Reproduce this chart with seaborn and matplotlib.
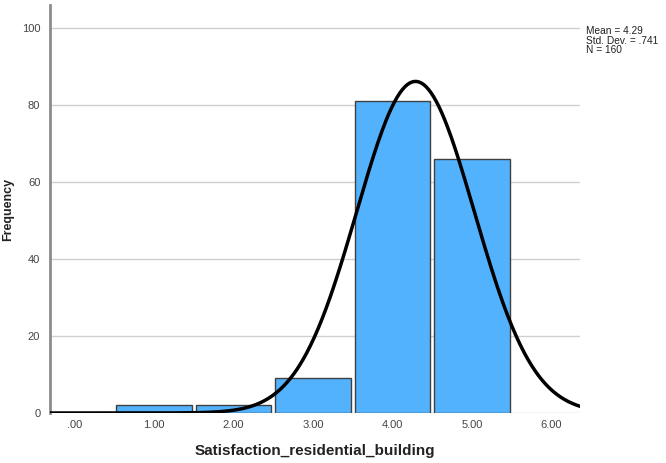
import numpy as np
import pandas as pd
import matplotlib
matplotlib.use("Agg")
import matplotlib.pyplot as plt
import seaborn as sns

categories = [1, 2, 3, 4, 5]
counts = [2, 2, 9, 81, 66]
mean_val = 4.29
sd_val = 0.741
n_val = 160
xtick_vals = [0, 1, 2, 3, 4, 5, 6]
xtick_labels = [".00", "1.00", "2.00", "3.00", "4.00", "5.00", "6.00"]
ytick_vals = [0, 20, 40, 60, 80, 100]

sns.set_style("white")
plt.rcParams['font.family'] = ['Liberation Sans', 'DejaVu Sans']

fig = plt.figure(figsize=(6.66, 4.63), dpi=100)
ax = fig.add_axes([50/666, 1 - 413/463, 530/666, 408/463])

df = pd.DataFrame({"value": categories, "count": counts})
sns.histplot(data=df, x="value", weights="count", discrete=True, shrink=0.955,
             color="#52b2fe", edgecolor="#404040", linewidth=1.0, alpha=1, ax=ax, zorder=3)

xmin, xmax = -0.31, 6.36
xs = np.linspace(xmin, xmax, 400)
ys = n_val * 1.0 / (sd_val * np.sqrt(2 * np.pi)) * np.exp(-0.5 * ((xs - mean_val) / sd_val) ** 2)
sns.lineplot(x=xs, y=ys, color="black", linewidth=2.5, ax=ax, zorder=4)

ax.set_xlim(xmin, xmax)
ax.set_ylim(0, 106)
ax.set_xticks(xtick_vals)
ax.set_xticklabels(xtick_labels)
ax.set_yticks(ytick_vals)
ax.tick_params(axis='x', length=0, labelsize=8, colors="#444444", pad=5)
ax.tick_params(axis='y', length=0, labelsize=8, colors="#444444", pad=7)
ax.yaxis.grid(True, color="#d0d0d0", linewidth=1)
ax.set_axisbelow(True)
for s in ["top", "right", "bottom"]:
    ax.spines[s].set_visible(False)
ax.spines["left"].set_color("#8c8c8c")
ax.spines["left"].set_linewidth(2)

ax.set_xlabel("Satisfaction_residential_building", fontsize=11, fontweight="bold", labelpad=10, color="#222222")
ax.set_ylabel("Frequency", fontsize=9, fontweight="bold", color="#222222")
ax.yaxis.set_label_coords(-0.068, 0.5)

fig.text(586/666, 1 - 26/463, "Mean = 4.29\nStd. Dev. = .741\nN = 160", fontsize=7.3,
         va="top", ha="left", linespacing=0.95, color="#222222")

fig.savefig("out.png", dpi=100)
